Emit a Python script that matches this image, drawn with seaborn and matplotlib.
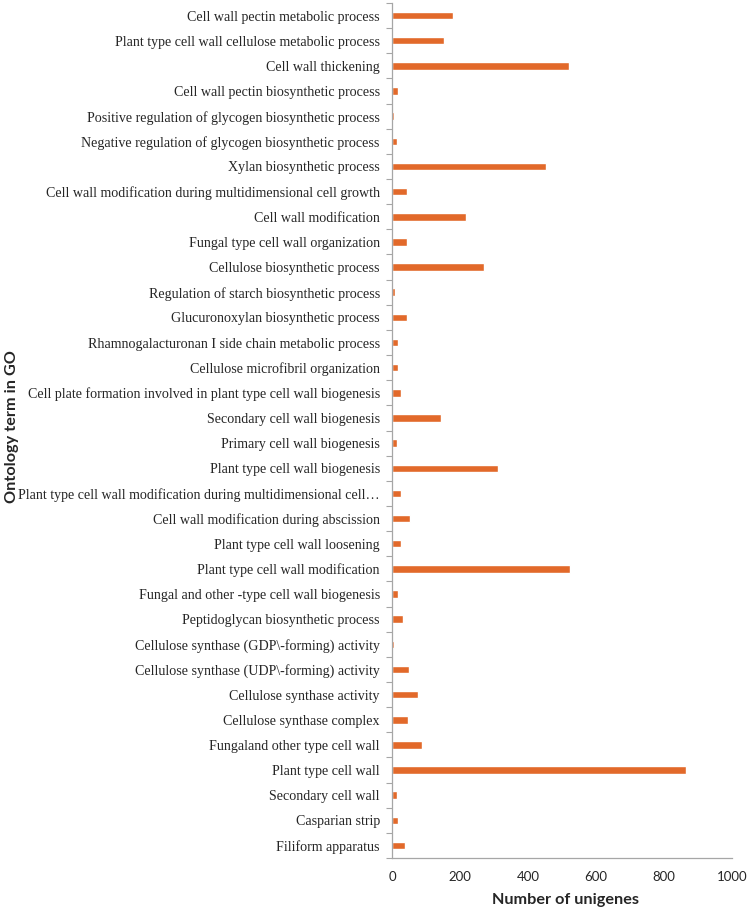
import matplotlib
matplotlib.use("Agg")
from matplotlib import pyplot as plt
from matplotlib.ticker import FixedLocator
import pandas as pd
import seaborn as sns

# GO terms, top to bottom as in the figure
terms = [
    "Cell wall pectin metabolic process",
    "Plant type cell wall cellulose metabolic process",
    "Cell wall thickening",
    "Cell wall pectin biosynthetic process",
    "Positive regulation of glycogen biosynthetic process",
    "Negative regulation of glycogen biosynthetic process",
    "Xylan biosynthetic process",
    "Cell wall modification during multidimensional cell growth",
    "Cell wall modification",
    "Fungal type cell wall organization",
    "Cellulose biosynthetic process",
    "Regulation of starch biosynthetic process",
    "Glucuronoxylan biosynthetic process",
    "Rhamnogalacturonan I side chain metabolic process",
    "Cellulose microfibril organization",
    "Cell plate formation involved in plant type cell wall biogenesis",
    "Secondary cell wall biogenesis",
    "Primary cell wall biogenesis",
    "Plant type cell wall biogenesis",
    "Plant type cell wall modification during multidimensional cell\u2026",
    "Cell wall modification during abscission",
    "Plant type cell wall loosening",
    "Plant type cell wall modification",
    "Fungal and other -type cell wall biogenesis",
    "Peptidoglycan biosynthetic process",
    "Cellulose synthase (GDP\\-forming) activity",
    "Cellulose synthase (UDP\\-forming) activity",
    "Cellulose synthase activity",
    "Cellulose synthase complex",
    "Fungaland other type cell wall",
    "Plant type cell wall",
    "Secondary cell wall",
    "Casparian strip",
    "Filiform apparatus",
]

unigenes = [178, 153, 520, 18, 4, 13, 453, 43, 218, 42, 270, 7,
            43, 16, 16, 25, 144, 13, 310, 26, 52, 25, 523, 18,
            32, 6, 48, 76, 45, 87, 864, 13, 16, 37]

x_ticks = [0, 200, 400, 600, 800, 1000]

df = pd.DataFrame({"term": terms, "count": unigenes})

sns.set_style("white")
plt.rcParams["font.family"] = ["Liberation Serif", "DejaVu Serif"]

fig = plt.figure(figsize=(7.48, 9.09), dpi=100)
ax = fig.add_axes([0.5245, 0.056, 0.4537, 0.9407])

sns.barplot(data=df, x="count", y="term", orient="h", color="#E2692A",
            saturation=1, width=0.3, ax=ax)

ax.set_xlim(0, 1000)
ax.set_ylim(len(terms) - 0.5, -0.5)
ax.set_xticks(x_ticks)
ax.set_xticklabels([str(t) for t in x_ticks], family="Lato", fontsize=9.5)
ax.tick_params(axis="x", length=4, width=0.8, color="#A6A6A6", pad=5)
ax.tick_params(axis="y", which="major", length=0, pad=9, labelsize=10.1)
ax.yaxis.set_minor_locator(FixedLocator([i - 0.5 for i in range(len(terms) + 1)]))
ax.tick_params(axis="y", which="minor", length=4, width=0.8, color="#A6A6A6", left=True)

for side in ["top", "right"]:
    ax.spines[side].set_visible(False)
for side in ["left", "bottom"]:
    ax.spines[side].set_color("#A6A6A6")
    ax.spines[side].set_linewidth(0.9)

ax.set_xlabel("Number of unigenes", family="Lato", fontweight="bold", fontsize=11.7)
ax.xaxis.set_label_coords(0.509, -0.041)
ax.set_ylabel("Ontology term in GO", family="Lato", fontweight="bold", fontsize=11.7)
ax.yaxis.set_label_coords(-1.100, 0.505)

fig.savefig("out.png", dpi=100)
